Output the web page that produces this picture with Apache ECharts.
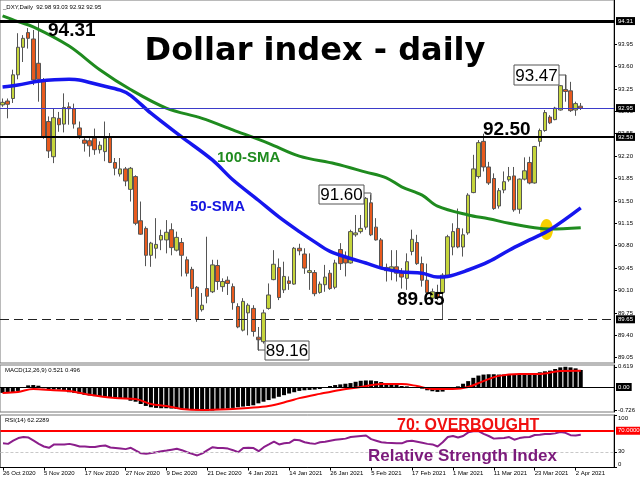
<!DOCTYPE html>
<html><head><meta charset="utf-8">
<script src="https://cdn.jsdelivr.net/npm/echarts@6/dist/echarts.min.js"></script>
<style>html,body{margin:0;padding:0;background:#fff}#c{width:640px;height:480px}</style>
</head><body><div id="c"></div>
<script>
const dates = ["26 Oct 2020","27 Oct 2020","28 Oct 2020","29 Oct 2020","30 Oct 2020",
"2 Nov 2020","3 Nov 2020","4 Nov 2020","5 Nov 2020","6 Nov 2020",
"9 Nov 2020","10 Nov 2020","11 Nov 2020","12 Nov 2020","13 Nov 2020",
"16 Nov 2020","17 Nov 2020","18 Nov 2020","19 Nov 2020","20 Nov 2020",
"23 Nov 2020","24 Nov 2020","25 Nov 2020","26 Nov 2020","27 Nov 2020","30 Nov 2020",
"1 Dec 2020","2 Dec 2020","3 Dec 2020","4 Dec 2020",
"7 Dec 2020","8 Dec 2020","9 Dec 2020","10 Dec 2020","11 Dec 2020",
"14 Dec 2020","15 Dec 2020","16 Dec 2020","17 Dec 2020","18 Dec 2020",
"21 Dec 2020","22 Dec 2020","23 Dec 2020","24 Dec 2020",
"28 Dec 2020","29 Dec 2020","30 Dec 2020","31 Dec 2020",
"4 Jan 2021","5 Jan 2021","6 Jan 2021","7 Jan 2021","8 Jan 2021",
"11 Jan 2021","12 Jan 2021","13 Jan 2021","14 Jan 2021","15 Jan 2021",
"18 Jan 2021","19 Jan 2021","20 Jan 2021","21 Jan 2021","22 Jan 2021",
"25 Jan 2021","26 Jan 2021","27 Jan 2021","28 Jan 2021","29 Jan 2021",
"1 Feb 2021","2 Feb 2021","3 Feb 2021","4 Feb 2021","5 Feb 2021",
"8 Feb 2021","9 Feb 2021","10 Feb 2021","11 Feb 2021","12 Feb 2021",
"15 Feb 2021","16 Feb 2021","17 Feb 2021","18 Feb 2021","19 Feb 2021",
"22 Feb 2021","23 Feb 2021","24 Feb 2021","25 Feb 2021","26 Feb 2021",
"1 Mar 2021","2 Mar 2021","3 Mar 2021","4 Mar 2021","5 Mar 2021",
"8 Mar 2021","9 Mar 2021","10 Mar 2021","11 Mar 2021","12 Mar 2021",
"15 Mar 2021","16 Mar 2021","17 Mar 2021","18 Mar 2021","19 Mar 2021",
"22 Mar 2021","23 Mar 2021","24 Mar 2021","25 Mar 2021","26 Mar 2021",
"29 Mar 2021","30 Mar 2021","31 Mar 2021","1 Apr 2021","2 Apr 2021","5 Apr 2021"];

const opens = [93.00,93.06,93.10,93.47,93.90,94.13,94.03,93.65,93.39,92.74,
92.19,92.79,92.70,92.97,92.94,92.64,92.45,92.44,92.48,92.30,
92.27,92.49,92.10,91.92,92.00,91.68,91.88,91.19,91.07,90.65,
90.76,90.89,90.89,91.05,90.73,90.85,90.58,90.43,90.15,89.80,
90.13,90.08,90.49,90.16,90.26,90.16,89.85,89.48,89.75,89.82,
89.37,89.30,89.82,90.27,90.46,90.11,90.25,90.20,90.76,90.67,
90.38,90.38,90.07,90.19,90.37,90.15,90.74,90.62,90.53,90.97,
91.02,91.09,91.47,91.09,90.89,90.46,90.42,90.47,90.37,90.29,
90.71,90.85,90.52,90.26,89.98,90.07,90.07,90.34,90.78,91.07,
90.78,91.00,91.63,91.88,92.43,92.03,91.85,91.42,91.67,91.83,
91.89,91.37,91.84,92.10,91.78,92.43,92.60,92.81,92.77,92.92,
93.24,93.22,92.92,92.98];
const closes = [93.04,93.01,93.47,93.90,94.04,94.04,93.39,93.40,92.50,92.28,
92.80,92.69,92.96,92.94,92.70,92.52,92.40,92.36,92.30,92.37,
92.48,92.10,92.01,92.00,91.81,92.01,91.15,90.98,90.65,90.84,
90.82,90.96,91.01,90.77,90.93,90.65,90.37,90.13,89.65,89.87,
90.01,90.50,90.24,90.24,90.21,89.91,89.53,89.93,89.87,89.46,
89.33,89.75,90.03,90.51,89.99,90.32,90.21,90.76,90.72,90.45,
90.41,90.05,90.20,90.31,90.13,90.53,90.52,90.53,91.02,91.00,
91.07,91.54,90.97,90.89,90.47,90.41,90.47,90.37,90.31,90.55,
90.90,90.52,90.26,90.07,90.08,89.99,90.34,90.94,91.02,90.78,
90.97,91.59,92.00,92.41,92.03,91.78,91.38,91.66,91.80,91.88,
91.36,91.84,91.97,91.78,92.35,92.60,92.88,92.72,92.95,93.30,
93.21,92.91,93.02,92.95];
const lows = [92.97,92.79,93.03,93.40,93.67,93.88,93.31,93.05,92.47,92.17,
92.09,92.58,92.57,92.69,92.63,92.47,92.27,92.19,92.22,92.24,
92.12,92.09,91.90,91.88,91.73,91.49,91.12,90.97,90.48,90.47,
90.60,90.73,90.68,90.65,90.71,90.32,90.32,90.00,89.61,89.77,
89.90,90.06,90.11,90.08,90.03,89.80,89.51,89.46,89.40,89.38,
89.16,89.27,89.80,90.26,89.95,90.06,90.11,90.19,90.65,90.36,
90.11,90.01,90.05,90.08,90.11,90.12,90.42,90.32,90.52,90.94,
90.99,91.05,90.95,90.88,90.47,90.24,90.26,90.24,90.13,90.11,
90.65,90.50,90.16,90.00,89.95,89.95,89.65,90.32,90.65,90.76,
90.63,90.97,91.62,91.85,91.96,91.75,91.36,91.38,91.62,91.80,
91.33,91.30,91.82,91.76,91.77,92.35,92.58,92.70,92.76,92.91,
93.05,92.89,92.83,92.92];
const highs = [93.10,93.10,93.55,94.12,94.09,94.20,94.17,94.31,93.42,92.82,
92.95,92.89,93.18,93.04,93.02,92.74,92.50,92.48,92.63,92.43,
92.74,92.56,92.17,92.17,92.03,92.03,91.90,91.49,91.10,90.86,
91.23,91.05,91.20,91.15,91.02,90.92,90.63,90.47,90.17,90.06,
90.94,90.58,90.58,90.29,90.32,90.21,89.90,89.98,89.90,89.87,
89.53,89.80,90.21,90.73,90.60,90.55,90.32,90.78,90.83,90.76,
90.68,90.42,90.24,90.50,90.42,90.58,90.84,90.71,91.05,91.28,
91.28,91.56,91.60,91.23,90.92,90.52,90.73,90.73,90.45,90.68,
91.05,90.97,90.63,90.52,90.13,90.19,90.37,90.97,91.15,91.38,
91.07,91.62,92.22,92.45,92.55,92.11,91.93,91.70,91.96,92.03,
92.03,91.85,92.18,92.19,92.36,92.63,92.92,92.84,92.97,93.31,
93.47,93.36,93.05,93.03];

const sma100Idx = [0,3,6,13,19,25,32,39,45,52,58,65,71,75,78,82,85,91,95,99,104,107,113];
const sma100 = [94.39,94.30,94.22,93.92,93.55,93.24,92.95,92.79,92.61,92.40,92.20,92.08,91.95,91.86,91.72,91.59,91.42,91.28,91.22,91.15,91.08,91.06,91.08];
const sma50Idx = [0,3,7,13,15,19,23,25,29,35,41,45,50,54,58,61,64,68,71,74,78,82,85,87,91,95,99,103,107,113];
const sma50 = [93.28,93.31,93.37,93.40,93.39,93.31,93.23,93.15,92.87,92.50,92.14,91.83,91.51,91.25,91.02,90.86,90.71,90.60,90.53,90.45,90.39,90.37,90.31,90.32,90.42,90.55,90.73,90.89,91.05,91.39];

const macdHist = [-0.18,-0.18,-0.16,-0.12,-0.02,0.05,0.06,0.04,-0.04,-0.07,
-0.08,-0.08,-0.12,-0.16,-0.18,-0.20,-0.24,-0.26,-0.28,-0.30,
-0.30,-0.32,-0.33,-0.35,-0.36,-0.42,-0.45,-0.52,-0.58,-0.62,
-0.64,-0.65,-0.65,-0.66,-0.67,-0.68,-0.69,-0.70,-0.71,-0.72,
-0.726,-0.72,-0.68,-0.67,-0.66,-0.64,-0.62,-0.60,-0.58,-0.56,
-0.50,-0.45,-0.40,-0.35,-0.30,-0.25,-0.20,-0.16,-0.12,-0.10,
-0.09,-0.08,-0.06,-0.02,0.03,0.06,0.08,0.10,0.12,0.16,
0.19,0.20,0.20,0.18,0.15,0.10,0.08,0.06,0.03,0.02,
0.00,-0.02,-0.05,-0.10,-0.13,-0.15,-0.14,-0.08,-0.02,0.02,
0.10,0.18,0.28,0.35,0.38,0.39,0.39,0.38,0.38,0.39,
0.39,0.38,0.39,0.40,0.42,0.45,0.48,0.50,0.55,0.60,
0.619,0.60,0.57,0.521];
const signalIdx = [0,3,6,10,13,16,22,26,29,32,35,39,45,48,52,56,58,62,66,70,74,78,81,84,88,91,94,97,101,105,109,113];
const signal = [-0.18,-0.15,-0.06,-0.10,-0.12,-0.21,-0.34,-0.37,-0.52,-0.58,-0.67,-0.70,-0.67,-0.64,-0.58,-0.43,-0.34,-0.21,-0.09,0.00,0.09,0.09,0.03,-0.06,-0.06,0.00,0.18,0.34,0.40,0.40,0.49,0.496];

const rsi = [46,45,51,56,58,57,51,45,40,37.5,
44,44,44,45,43,40,40,39,39,41,
42,38,37,36,35,37.5,32,27,26,27.5,
29,31,32.4,34,35.6,33,29,26,23,27,
33,38.7,37,37,36,33,29,37,37.5,37,
31,38.7,44,49.5,44,46,47,53,52,48,
46,45,48,49,51,53,54,55,58,59,
60,61,54,51,48,47,46.5,46,46,50,
51,49,47,45,44,40,48,58,60,57,
60,67,69,69.5,64,60,55,55.5,56,58,
53,56,57.5,58,62,62.5,64,64,65,67.5,
66,61.5,61,62.2];

const priceTicks = [89.05,89.40,89.75,90.10,90.45,90.80,91.15,91.50,91.85,92.20,92.55,92.90,93.25,93.60,93.95];
const levels = [94.31,92.95,92.50,89.65];
const macdTicks = [-0.726,0.619];
const rsiTicks = [0,30,100];
const rsiLevels = [70,30];

const xCats = dates.concat(['','','','','','']);
const SMALL = "'Liberation Sans',Arial,sans-serif";
const BIG = "'Liberation Sans',Arial,sans-serif";
const TITLE = "'DejaVu Sans','Liberation Sans',sans-serif";
const FS = 6;
const showTick = (i) => i % 8 === 0 && i < dates.length;

const levelStyles = [
  {color:'#000',width:3,type:'solid'},
  {color:'#3b3bc9',width:1,type:'solid'},
  {color:'#000',width:2,type:'solid'},
  {color:'#222',width:1,type:[9,5]}
];
const tagLabel = {show:true,position:'end',distance:2,backgroundColor:'#000',color:'#fff',fontSize:FS,fontFamily:SMALL,padding:[1,2]};

const gridBase = {left:0,right:26,show:true,borderColor:'#777',borderWidth:1};
const yBase = (gi) => ({gridIndex:gi,position:'right',splitLine:{show:false},
  axisLine:{show:true,lineStyle:{color:'#000'}},
  axisTick:{show:true,length:3,lineStyle:{color:'#000'}},
  axisLabel:{fontSize:FS,fontFamily:SMALL,color:'#000',margin:4}});

const chart = echarts.init(document.getElementById('c'));
const y0 = yBase(0);
y0.min = 88.967; y0.max = 94.639;
y0.axisLabel.customValues = priceTicks; y0.axisLabel.formatter = v => v.toFixed(2);
y0.axisTick.customValues = priceTicks;
const y1 = yBase(1);
y1.min = -0.765; y1.max = 0.673;
y1.axisLabel.customValues = macdTicks; y1.axisLabel.formatter = v => v.toFixed(3);
y1.axisTick.customValues = macdTicks;
const y2 = yBase(2);
y2.min = 0; y2.max = 100;
y2.axisLabel.customValues = rsiTicks; y2.axisLabel.formatter = v => String(v);
y2.axisLabel.verticalAlignMaxLabel = 'top'; y2.axisLabel.verticalAlignMinLabel = 'bottom';
y2.axisTick.customValues = rsiTicks;

const hiddenX = (gi) => ({gridIndex:gi,type:'category',data:xCats,axisLine:{show:false},axisTick:{show:false},axisLabel:{show:false},splitLine:{show:false}});

const txt = (text,x,y,size,color,weight) => ({type:'text',z:100,style:{text:text,x:x,y:y,fontSize:size,fontWeight:weight||'normal',fill:color||'#000',fontFamily:BIG,textVerticalAlign:'middle'}});
const box = (text,x,y,w,h,pts) => [
  {type:'rect',z:99,shape:{x:x,y:y,width:w,height:h},style:{fill:'#fff',stroke:'#555',lineWidth:1}},
  {type:'text',z:100,style:{text:text,x:x+w/2,y:y+h/2+1,textAlign:'center',textVerticalAlign:'middle',fontSize:17,fontFamily:BIG,fill:'#000'}},
  {type:'polyline',z:99,shape:{points:pts},style:{stroke:'#555',lineWidth:1,fill:null}}
];

chart.setOption({
  animation:false,
  backgroundColor:'#fff',
  grid:[Object.assign({top:0,height:363},gridBase),Object.assign({top:365,height:47},gridBase),Object.assign({top:415,height:52.5},gridBase)],
  xAxis:[hiddenX(0),hiddenX(1),{gridIndex:2,type:'category',data:xCats,
    axisLine:{show:true,lineStyle:{color:'#000'}},
    axisTick:{show:true,alignWithLabel:true,interval:showTick,length:3,lineStyle:{color:'#000'}},
    axisLabel:{interval:showTick,align:'left',fontSize:FS,fontFamily:SMALL,color:'#000',margin:3},
    splitLine:{show:false}}],
  yAxis:[y0,y1,y2],
  series:[
    {type:'candlestick',xAxisIndex:0,yAxisIndex:0,barWidth:4,
     data:dates.map((d,i)=>[opens[i],closes[i],lows[i],highs[i]]),
     itemStyle:{color:'#c5d53c',color0:'#e85a1e',borderColor:'#555',borderColor0:'#555',borderWidth:1},
     markLine:{silent:true,symbol:['none','none'],label:Object.assign({formatter:p=>Number(p.value).toFixed(2)},tagLabel),
       data:levels.map((v,i)=>({yAxis:v,lineStyle:levelStyles[i]}))}},
    {type:'line',xAxisIndex:0,yAxisIndex:0,data:sma100Idx.map((x,i)=>[x,sma100[i]]),smooth:0.35,showSymbol:false,
     lineStyle:{color:'#1f8b1f',width:3}},
    {type:'line',xAxisIndex:0,yAxisIndex:0,data:sma50Idx.map((x,i)=>[x,sma50[i]]),smooth:0.35,showSymbol:false,
     lineStyle:{color:'#1616ee',width:3.5}},
    {type:'bar',xAxisIndex:1,yAxisIndex:1,data:macdHist,barWidth:4,itemStyle:{color:'#000'},
     markLine:{silent:true,symbol:['none','none'],lineStyle:{color:'#000',width:1,type:'solid'},
       label:Object.assign({formatter:()=> '0.00'},tagLabel),data:[{yAxis:0}]}},
    {type:'line',xAxisIndex:1,yAxisIndex:1,data:signalIdx.map((x,i)=>[x,signal[i]]),smooth:0.35,showSymbol:false,
     lineStyle:{color:'#ff0000',width:2}},
    {type:'line',xAxisIndex:2,yAxisIndex:2,data:rsi,showSymbol:false,lineStyle:{color:'#8b1e8b',width:2},
     markLine:{silent:true,symbol:['none','none'],data:[
       {yAxis:rsiLevels[0],lineStyle:{color:'#ff0000',width:2,type:'solid'},
        label:Object.assign({},tagLabel,{backgroundColor:'#ff0000',formatter:p=>Number(p.value).toFixed(4)})},
       {yAxis:rsiLevels[1],lineStyle:{color:'#c8c8c8',width:1,type:[3,2]},label:{show:false}}]}}
  ],
  graphic:[
    {type:'ellipse',z:1,shape:{cx:546.5,cy:229.5,rx:6.5,ry:10.5},style:{fill:'#f7d000'}},
    {type:'text',z:100,style:{text:'_DXY,Daily  92.98 93.03 92.92 92.95',x:3,y:7,fontSize:FS,fontFamily:SMALL,fill:'#000',textVerticalAlign:'middle'}},
    {type:'text',z:100,style:{text:'Dollar index - daily',x:315,y:52,textAlign:'center',textVerticalAlign:'middle',fontSize:32,fontWeight:'bold',fontFamily:TITLE,fill:'#000'}},
    txt('94.31',48,31,19,'#000','bold'),
    txt('92.50',483,130,19,'#000','bold'),
    txt('89.65',397,300,19,'#000','bold'),
    txt('100-SMA',217,158,15,'#1f8b1f','bold'),
    txt('50-SMA',190,207,15,'#1616e0','bold'),
    ...box('93.47',514,65,45,20,[[559,75],[566,75],[566,89]]),
    ...box('91.60',319,185,45,19,[[364,193],[371,193],[371,200]]),
    ...box('89.16',265,341,44,19,[[258,338],[258,350],[265,350]]),
    {type:'text',z:100,style:{text:'MACD(12,26,9) 0.521 0.496',x:5,y:370,fontSize:FS,fontFamily:SMALL,fill:'#000',textVerticalAlign:'middle'}},
    {type:'text',z:100,style:{text:'RSI(14) 62.2289',x:5,y:420,fontSize:FS,fontFamily:SMALL,fill:'#000',textVerticalAlign:'middle'}},
    txt('70: OVERBOUGHT',397,426,16,'#f01010','bold'),
    txt('Relative Strength Index',368,456.5,17,'#7b1a7b','bold')
  ]
});
</script></body></html>
